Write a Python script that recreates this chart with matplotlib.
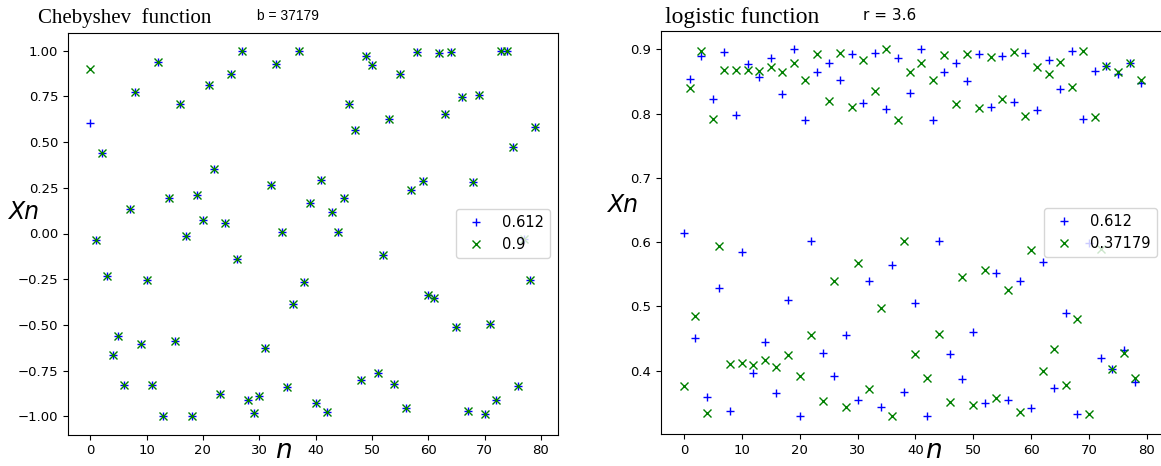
import matplotlib
matplotlib.use("Agg")
import matplotlib.pyplot as plt

# Chebyshev map, b = 37179
n_cheb = list(range(80))
cheb_a = [0.607, -0.038, 0.439, -0.234, -0.664, -0.562, -0.831, 0.136, 0.775, -0.604,
          -0.257, -0.831, 0.936, -1.0, 0.196, -0.588, 0.709, -0.012, -1.0, 0.21,
          0.076, 0.81, 0.353, -0.878, 0.059, 0.871, -0.138, 1.0, -0.91, -0.985,
          -0.89, -0.628, 0.268, 0.93, 0.006, -0.842, -0.387, 0.997, -0.268, 0.167,
          -0.926, 0.291, -0.975, 0.117, 0.008, 0.196, 0.709, 0.564, -0.80, 0.973,
          0.92, -0.765, -0.12, 0.626, -0.824, 0.872, -0.957, 0.238, 0.995, 0.287,
          -0.339, -0.354, 0.99, 0.655, 0.995, -0.509, 0.748, -0.97, 0.28, 0.757,
          -0.99, -0.497, -0.91, 1.0, 1.0, 0.472, -0.837, -0.03, -0.257, 0.583]
# second start value lands on the same orbit from n = 1 on
cheb_b = [0.9] + cheb_a[1:]

# logistic map, r = 3.6
n_log = list(range(80))
log_a = [0.615, 0.854, 0.451, 0.889, 0.359, 0.822, 0.528, 0.896, 0.337, 0.798,
         0.584, 0.877, 0.396, 0.857, 0.444, 0.886, 0.366, 0.83, 0.510, 0.9,
         0.330, 0.79, 0.601, 0.864, 0.427, 0.878, 0.392, 0.852, 0.456, 0.892,
         0.354, 0.817, 0.54, 0.895, 0.344, 0.807, 0.564, 0.886, 0.367, 0.832,
         0.506, 0.9, 0.330, 0.79, 0.602, 0.864, 0.426, 0.878, 0.387, 0.851,
         0.46, 0.893, 0.349, 0.811, 0.552, 0.89, 0.354, 0.818, 0.539, 0.895,
         0.342, 0.805, 0.569, 0.883, 0.373, 0.838, 0.489, 0.897, 0.332, 0.792,
         0.598, 0.866, 0.419, 0.874, 0.403, 0.862, 0.432, 0.878, 0.383, 0.847]
log_b = [0.376, 0.84, 0.485, 0.898, 0.334, 0.792, 0.594, 0.868, 0.41, 0.868,
         0.412, 0.868, 0.409, 0.866, 0.416, 0.872, 0.405, 0.864, 0.425, 0.878,
         0.391, 0.852, 0.455, 0.892, 0.353, 0.819, 0.54, 0.895, 0.343, 0.81,
         0.568, 0.884, 0.371, 0.835, 0.497, 0.9, 0.330, 0.79, 0.601, 0.865,
         0.426, 0.878, 0.389, 0.852, 0.457, 0.891, 0.351, 0.815, 0.545, 0.893,
         0.347, 0.809, 0.557, 0.888, 0.358, 0.823, 0.526, 0.896, 0.335, 0.796,
         0.587, 0.872, 0.40, 0.861, 0.433, 0.88, 0.377, 0.841, 0.481, 0.897,
         0.333, 0.794, 0.59, 0.874, 0.403, 0.865, 0.427, 0.879, 0.389, 0.853]

W, H = 1161, 466
fig = plt.figure(figsize=(W / 100, H / 100), dpi=100)

ax1 = fig.add_axes([68 / W, 1 - 434.5 / H, 489.5 / W, 402 / H])
ax1.plot(n_cheb, cheb_a, "b+", label="0.612")
ax1.plot(n_cheb, cheb_b, "gx", label="0.9")
ax1.set_xticks(range(0, 81, 10))
ax1.set_yticks([1.0, 0.75, 0.5, 0.25, 0.0, -0.25, -0.5, -0.75, -1.0])
ax1.legend(loc="center right", fontsize=10.5)

# right panel runs a few pixels past the picture's right edge, as in the source
ax2 = fig.add_axes([661 / W, 1 - 434 / H, 503 / W, 403 / H])
ax2.plot(n_log, log_a, "b+", label="0.612")
ax2.plot(n_log, log_b, "gx", label="0.37179")
ax2.set_xticks(range(0, 81, 10))
ax2.legend(loc="center right", fontsize=10.5)

for ax in (ax1, ax2):
    ax.tick_params(labelsize=9.5)

# titles and hand-placed axis names
fig.text(38 / W, 1 - 18 / H, "Chebyshev  function", family="Liberation Serif",
         fontsize=15, va="center")
fig.text(257 / W, 1 - 16 / H, "b = 37179", family="Liberation Sans",
         fontsize=10, va="center")
fig.text(665 / W, 1 - 18 / H, "logistic function", family="Liberation Serif",
         fontsize=17, va="center")
fig.text(863 / W, 1 - 16 / H, "r = 3.6", fontsize=11, va="center")

fig.text(8 / W, 1 - 212 / H, "Xn", fontsize=17, style="italic", va="center")
fig.text(607 / W, 1 - 205 / H, "Xn", fontsize=17, style="italic", va="center")
fig.text(275 / W, 2 / H, "n", fontsize=19, style="italic", va="bottom")
fig.text(925 / W, 2 / H, "n", fontsize=19, style="italic", va="bottom")

fig.savefig("out.png", dpi=100)
